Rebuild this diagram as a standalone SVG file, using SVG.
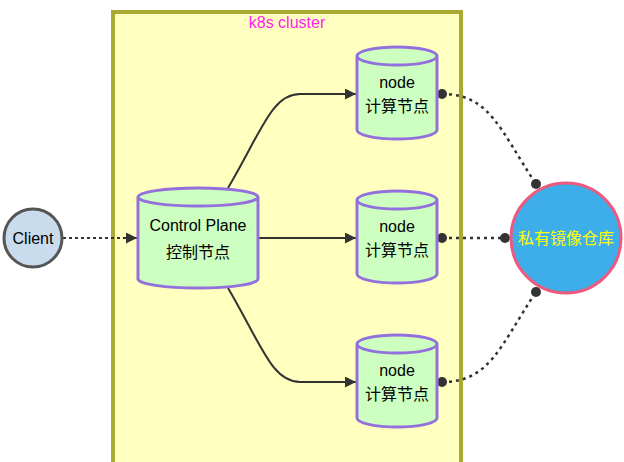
<svg xmlns="http://www.w3.org/2000/svg" width="624" height="462" viewBox="0 0 624 462">
<style>
text{font-family:"Liberation Sans","Noto Sans CJK SC",sans-serif;font-size:16px;text-anchor:middle;dominant-baseline:central}
.cyl{fill:#ccffc0;stroke:#9370db;stroke-width:3}
.solid{fill:none;stroke:#333;stroke-width:2}
.dot{fill:none;stroke:#333;stroke-width:2.5;stroke-dasharray:3 4}
.end{fill:#333}
</style>
<defs>
<marker id="arr" viewBox="0 0 10 10" refX="10" refY="5" markerWidth="11" markerHeight="11" markerUnits="userSpaceOnUse" orient="auto"><path d="M0,0L10,5L0,10z" fill="#333"/></marker>
</defs>
<g id="cluster">
<rect x="113" y="12" width="348" height="460" fill="#ffffc0" stroke="#aaaa33" stroke-width="4"/>
<text x="287" y="22" fill="#ff22ee">k8s cluster</text>
</g>
<g id="edges">
<path d="M63,238L137,238" marker-end="url(#arr)" fill="none" stroke="#333" stroke-width="2" stroke-dasharray="3 3"/>
<path class="solid" d="M228,188C262,130 272,94 300,94L356,94" marker-end="url(#arr)"/>
<path class="solid" d="M258,238L356,238" marker-end="url(#arr)"/>
<path class="solid" d="M228,288C262,346 272,382 300,382L356,382" marker-end="url(#arr)"/>
<path class="dot" d="M442,94C490,94 500,130 536,184"/>
<path class="dot" d="M442,238L505,238"/>
<path class="dot" d="M442,382C490,382 500,346 536,292"/>
<circle class="end" cx="442" cy="94" r="5"/>
<circle class="end" cx="536" cy="184" r="5"/>
<circle class="end" cx="442" cy="238" r="5"/>
<circle class="end" cx="505" cy="238" r="5"/>
<circle class="end" cx="442" cy="382" r="5"/>
<circle class="end" cx="536" cy="292" r="5"/>
</g>
<g id="client">
<circle cx="33" cy="238" r="29" fill="#c8dcee" stroke="#555" stroke-width="3"/>
<text x="33" y="238">Client</text>
</g>
<g id="control-plane">
<path class="cyl" d="M138,197a60,9 0 0,0 120,0a60,9 0 0,0 -120,0l0,82a60,9 0 0,0 120,0l0,-82"/>
<text x="198" y="225">Control Plane</text>
<text x="198" y="252">控制节点</text>
</g>
<g id="node1">
<path class="cyl" d="M357,56a40,9 0 0,0 80,0a40,9 0 0,0 -80,0l0,74a40,9 0 0,0 80,0l0,-74"/>
<text x="397" y="82">node</text>
<text x="397" y="106">计算节点</text>
</g>
<g id="node2">
<path class="cyl" d="M357,200a40,9 0 0,0 80,0a40,9 0 0,0 -80,0l0,74a40,9 0 0,0 80,0l0,-74"/>
<text x="397" y="226">node</text>
<text x="397" y="250">计算节点</text>
</g>
<g id="node3">
<path class="cyl" d="M357,344a40,9 0 0,0 80,0a40,9 0 0,0 -80,0l0,74a40,9 0 0,0 80,0l0,-74"/>
<text x="397" y="370">node</text>
<text x="397" y="394">计算节点</text>
</g>
<g id="registry">
<circle cx="566" cy="238" r="55" fill="#3daeea" stroke="#ee5a7e" stroke-width="3"/>
<text x="566" y="238" fill="#ffff00">私有镜像仓库</text>
</g>
</svg>
